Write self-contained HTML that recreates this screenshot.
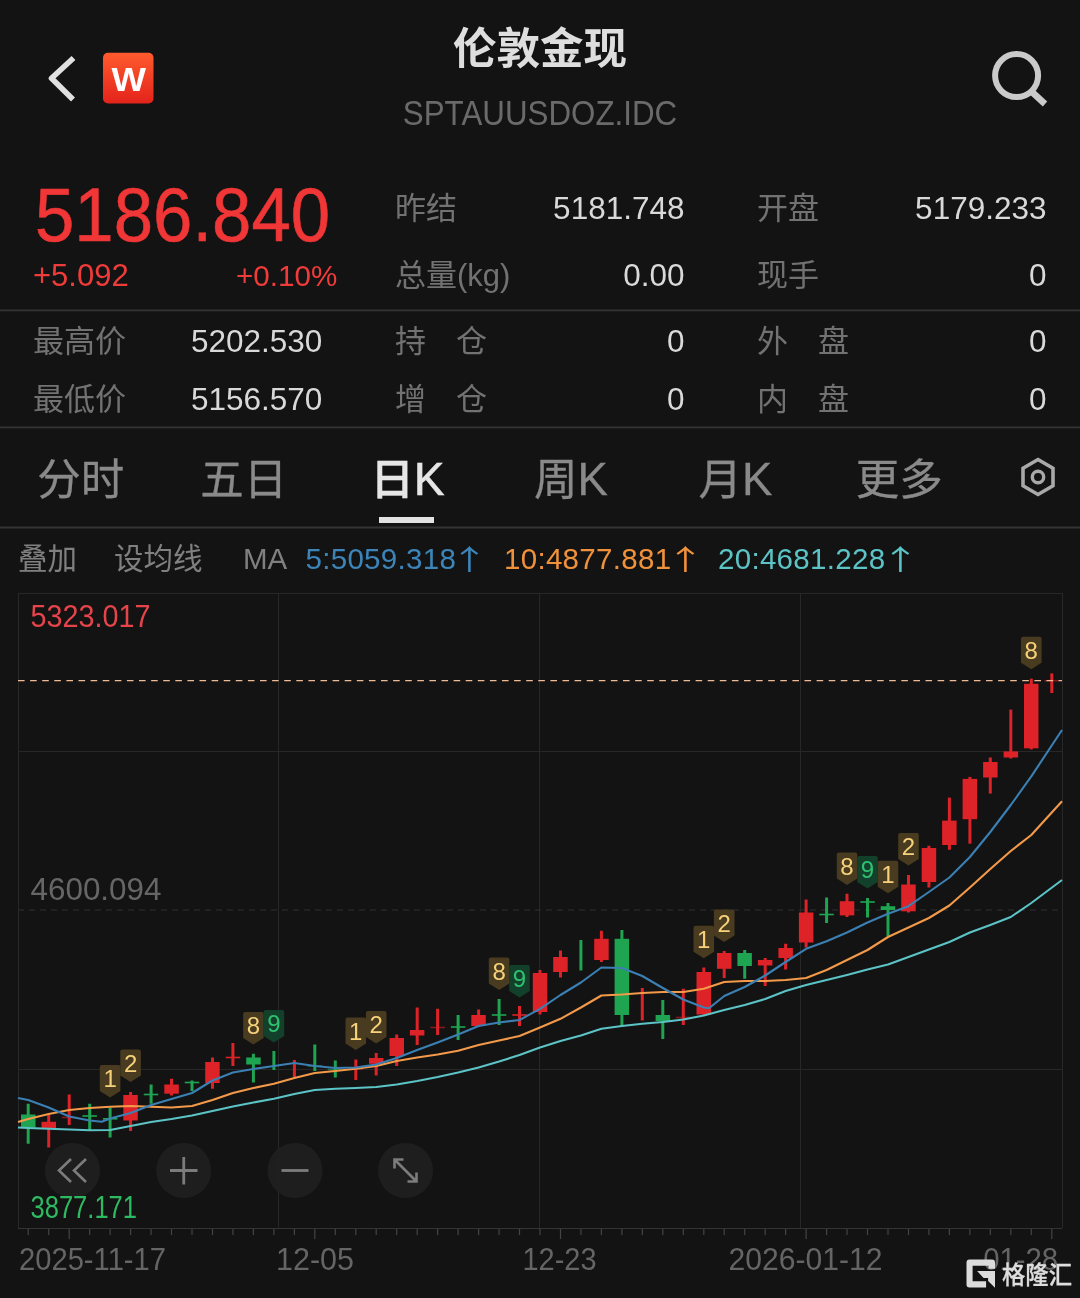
<!DOCTYPE html>
<html lang="zh"><head><meta charset="utf-8"><title>伦敦金现</title>
<style>
html,body{margin:0;padding:0;background:#131313;}
body{width:1080px;height:1298px;position:relative;overflow:hidden;font-family:"Liberation Sans","Noto Sans CJK SC",sans-serif;color:#d6d6d6;}
.a{position:absolute;white-space:nowrap;line-height:1;}
.lb{color:#727272;font-size:31px;margin-left:-1px;}
.v{color:#d9d9d9;font-size:31.5px;text-align:right;margin-right:-0.5px;}
.sep{position:absolute;left:0;width:1080px;height:2px;background:#2f2f2f;}
.tab{font-size:43.5px;color:#8a8a8a;-webkit-text-stroke:0.3px currentColor;font-family:"Liberation Sans","Noto Sans CJK SC",sans-serif;}
.k{font-family:"Liberation Sans",sans-serif;font-size:45.5px;line-height:0;}
.ma{font-size:29.5px;}
.ar{font-family:"Noto Sans CJK SC",sans-serif;font-size:28px;top:544.2px;width:29px;text-align:center;transform:scaleX(1.35);}
svg text{font-family:"Liberation Sans","Noto Sans CJK SC",sans-serif;}
</style></head><body>
<!-- header -->
<svg class="a" style="left:0;top:0" width="1080" height="140" viewBox="0 0 1080 140">
<defs><linearGradient id="wg" x1="0" y1="0" x2="0" y2="1"><stop offset="0" stop-color="#ff5b2e"/><stop offset="1" stop-color="#e3231b"/></linearGradient></defs>
<path d="M73.5,58 L51.5,78.3 L73,99.6" fill="none" stroke="#e0e0e0" stroke-width="5.6" stroke-linejoin="round"/>
<rect x="103" y="52.8" width="50.5" height="50.7" rx="5" fill="url(#wg)"/>
<text x="111.6" y="90.5" font-size="33.5" font-weight="bold" fill="#fff" textLength="34.5" lengthAdjust="spacingAndGlyphs">W</text>
<circle cx="1016.6" cy="75.6" r="21.5" fill="none" stroke="#cacaca" stroke-width="6"/>
<path d="M1031.5,91.5 L1045,104" stroke="#cacaca" stroke-width="6.5" fill="none"/>
</svg>
<div class="a" style="left:0;width:1080px;top:28px;text-align:center;font-size:43.5px;font-weight:bold;color:#dedede;">伦敦金现</div>
<div class="a" style="left:0;width:1080px;top:95px;text-align:center;font-size:35px;transform:scaleX(0.895);color:#6a6a6a;">SPTAUUSDOZ.IDC</div>
<!-- price -->
<div class="a" style="left:34.5px;top:177.6px;font-size:75.6px;transform:scaleX(0.936);transform-origin:0 0;-webkit-text-stroke:0.6px #f03636;color:#f03636;">5186.840</div>
<div class="a" style="left:33px;top:260px;font-size:31px;color:#f03b3b;">+5.092</div>
<div class="a" style="left:236px;top:260.5px;font-size:29.6px;color:#f03b3b;">+0.10%</div>
<!-- stats -->
<div class="a lb" style="left:396px;top:192.5px;">昨结</div><div class="a v" style="right:396px;top:192.5px;">5181.748</div>
<div class="a lb" style="left:758px;top:192.5px;">开盘</div><div class="a v" style="right:34px;top:192.5px;">5179.233</div>
<div class="a lb" style="left:396px;top:260px;">总量(kg)</div><div class="a v" style="right:396px;top:260px;">0.00</div>
<div class="a lb" style="left:758px;top:260px;">现手</div><div class="a v" style="right:34px;top:260px;">0</div>
<div class="a lb" style="left:34px;top:326px;">最高价</div><div class="a v" style="left:191px;top:326px;">5202.530</div>
<div class="a lb" style="left:396px;top:326px;">持<span style="margin-left:30px">仓</span></div><div class="a v" style="right:396px;top:326px;">0</div>
<div class="a lb" style="left:758px;top:326px;">外<span style="margin-left:30px">盘</span></div><div class="a v" style="right:34px;top:326px;">0</div>
<div class="a lb" style="left:34px;top:384px;">最低价</div><div class="a v" style="left:191px;top:384px;">5156.570</div>
<div class="a lb" style="left:396px;top:384px;">增<span style="margin-left:30px">仓</span></div><div class="a v" style="right:396px;top:384px;">0</div>
<div class="a lb" style="left:758px;top:384px;">内<span style="margin-left:30px">盘</span></div><div class="a v" style="right:34px;top:384px;">0</div>
<!-- tabs -->
<div class="a tab" style="left:37.2px;top:459px;">分时</div>
<div class="a tab" style="left:200.2px;top:459px;">五日</div>
<div class="a tab" style="left:370.5px;top:459px;color:#e6e6e6;font-weight:500;-webkit-text-stroke:0.5px #e6e6e6;">日<span class="k" style="-webkit-text-stroke:0.7px #e6e6e6;">K</span></div>
<div class="a" style="left:379px;top:517.3px;width:55px;height:5.4px;background:#e2e2e2;"></div>
<div class="a tab" style="left:534px;top:459px;">周<span class="k">K</span></div>
<div class="a tab" style="left:698.5px;top:459px;">月<span class="k">K</span></div>
<div class="a tab" style="left:855.7px;top:459px;">更多</div>
<svg class="a" style="left:1010px;top:450px" width="56" height="56" viewBox="1010 450 56 56">
<path d="M1038,459.5 L1053,468.3 V485.7 L1038,494.5 L1023,485.7 V468.3 Z" fill="none" stroke="#a9a9a9" stroke-width="3.6" stroke-linejoin="miter"/>
<circle cx="1038" cy="477" r="5.7" fill="none" stroke="#a9a9a9" stroke-width="3.4"/>
</svg>
<!-- MA row -->
<div class="a ma" style="left:18px;top:544px;color:#808080;">叠加</div>
<div class="a ma" style="left:114px;top:544px;color:#808080;">设均线</div>
<div class="a ma" style="left:243px;top:544px;color:#808080;">MA</div>
<div class="a ma" style="left:305.5px;top:544px;color:#3d84b8;letter-spacing:0.3px;">5:5059.318</div><div class="a ar" style="left:454.5px;color:#3d84b8;">↑</div>
<div class="a ma" style="left:504px;top:544px;color:#f0913c;letter-spacing:0.3px;">10:4877.881</div><div class="a ar" style="left:671px;color:#f0913c;">↑</div>
<div class="a ma" style="left:718px;top:544px;color:#5cc3c6;letter-spacing:0.3px;">20:4681.228</div><div class="a ar" style="left:885.5px;color:#5cc3c6;">↑</div>
<!-- chart -->
<svg class="a" style="left:0;top:0" width="1080" height="1298" viewBox="0 0 1080 1298">
<line x1="0" y1="310.4" x2="1080" y2="310.4" stroke="#343434" stroke-width="1.8"/>
<line x1="0" y1="427.35" x2="1080" y2="427.35" stroke="#343434" stroke-width="1.8"/>
<line x1="0" y1="527.5" x2="1080" y2="527.5" stroke="#343434" stroke-width="1.8"/>
<line x1="18.5" y1="593" x2="18.5" y2="1228" stroke="#272727" stroke-width="1"/>
<line x1="278.5" y1="593" x2="278.5" y2="1228" stroke="#272727" stroke-width="1"/>
<line x1="539.5" y1="593" x2="539.5" y2="1228" stroke="#272727" stroke-width="1"/>
<line x1="800.5" y1="593" x2="800.5" y2="1228" stroke="#272727" stroke-width="1"/>
<line x1="1062.5" y1="593" x2="1062.5" y2="1228" stroke="#272727" stroke-width="1"/>
<line x1="18" y1="593.5" x2="1062" y2="593.5" stroke="#272727" stroke-width="1"/>
<line x1="18" y1="751.5" x2="1062" y2="751.5" stroke="#272727" stroke-width="1"/>
<line x1="18" y1="1069.5" x2="1062" y2="1069.5" stroke="#272727" stroke-width="1"/>
<line x1="18" y1="910" x2="1062" y2="910" stroke="#303030" stroke-width="1" stroke-dasharray="6 5"/>
<line x1="18" y1="1228.5" x2="1062" y2="1228.5" stroke="#343434" stroke-width="1"/>
<line x1="28.2" y1="1229" x2="28.2" y2="1235" stroke="#444444" stroke-width="1.2"/>
<line x1="48.7" y1="1229" x2="48.7" y2="1235" stroke="#444444" stroke-width="1.2"/>
<line x1="69.2" y1="1229" x2="69.2" y2="1239" stroke="#444444" stroke-width="1.2"/>
<line x1="89.7" y1="1229" x2="89.7" y2="1235" stroke="#444444" stroke-width="1.2"/>
<line x1="110.1" y1="1229" x2="110.1" y2="1235" stroke="#444444" stroke-width="1.2"/>
<line x1="130.6" y1="1229" x2="130.6" y2="1235" stroke="#444444" stroke-width="1.2"/>
<line x1="151.1" y1="1229" x2="151.1" y2="1235" stroke="#444444" stroke-width="1.2"/>
<line x1="171.5" y1="1229" x2="171.5" y2="1235" stroke="#444444" stroke-width="1.2"/>
<line x1="192.0" y1="1229" x2="192.0" y2="1235" stroke="#444444" stroke-width="1.2"/>
<line x1="212.5" y1="1229" x2="212.5" y2="1235" stroke="#444444" stroke-width="1.2"/>
<line x1="232.9" y1="1229" x2="232.9" y2="1235" stroke="#444444" stroke-width="1.2"/>
<line x1="253.4" y1="1229" x2="253.4" y2="1235" stroke="#444444" stroke-width="1.2"/>
<line x1="273.9" y1="1229" x2="273.9" y2="1235" stroke="#444444" stroke-width="1.2"/>
<line x1="294.4" y1="1229" x2="294.4" y2="1235" stroke="#444444" stroke-width="1.2"/>
<line x1="314.8" y1="1229" x2="314.8" y2="1239" stroke="#444444" stroke-width="1.2"/>
<line x1="335.3" y1="1229" x2="335.3" y2="1235" stroke="#444444" stroke-width="1.2"/>
<line x1="355.8" y1="1229" x2="355.8" y2="1235" stroke="#444444" stroke-width="1.2"/>
<line x1="376.2" y1="1229" x2="376.2" y2="1235" stroke="#444444" stroke-width="1.2"/>
<line x1="396.7" y1="1229" x2="396.7" y2="1235" stroke="#444444" stroke-width="1.2"/>
<line x1="417.2" y1="1229" x2="417.2" y2="1235" stroke="#444444" stroke-width="1.2"/>
<line x1="437.6" y1="1229" x2="437.6" y2="1235" stroke="#444444" stroke-width="1.2"/>
<line x1="458.1" y1="1229" x2="458.1" y2="1235" stroke="#444444" stroke-width="1.2"/>
<line x1="478.6" y1="1229" x2="478.6" y2="1235" stroke="#444444" stroke-width="1.2"/>
<line x1="499.1" y1="1229" x2="499.1" y2="1235" stroke="#444444" stroke-width="1.2"/>
<line x1="519.5" y1="1229" x2="519.5" y2="1235" stroke="#444444" stroke-width="1.2"/>
<line x1="540.0" y1="1229" x2="540.0" y2="1235" stroke="#444444" stroke-width="1.2"/>
<line x1="560.5" y1="1229" x2="560.5" y2="1239" stroke="#444444" stroke-width="1.2"/>
<line x1="580.9" y1="1229" x2="580.9" y2="1235" stroke="#444444" stroke-width="1.2"/>
<line x1="601.4" y1="1229" x2="601.4" y2="1235" stroke="#444444" stroke-width="1.2"/>
<line x1="621.9" y1="1229" x2="621.9" y2="1235" stroke="#444444" stroke-width="1.2"/>
<line x1="642.3" y1="1229" x2="642.3" y2="1235" stroke="#444444" stroke-width="1.2"/>
<line x1="662.8" y1="1229" x2="662.8" y2="1235" stroke="#444444" stroke-width="1.2"/>
<line x1="683.3" y1="1229" x2="683.3" y2="1235" stroke="#444444" stroke-width="1.2"/>
<line x1="703.8" y1="1229" x2="703.8" y2="1235" stroke="#444444" stroke-width="1.2"/>
<line x1="724.2" y1="1229" x2="724.2" y2="1235" stroke="#444444" stroke-width="1.2"/>
<line x1="744.7" y1="1229" x2="744.7" y2="1235" stroke="#444444" stroke-width="1.2"/>
<line x1="765.2" y1="1229" x2="765.2" y2="1235" stroke="#444444" stroke-width="1.2"/>
<line x1="785.6" y1="1229" x2="785.6" y2="1235" stroke="#444444" stroke-width="1.2"/>
<line x1="806.1" y1="1229" x2="806.1" y2="1239" stroke="#444444" stroke-width="1.2"/>
<line x1="826.6" y1="1229" x2="826.6" y2="1235" stroke="#444444" stroke-width="1.2"/>
<line x1="847.0" y1="1229" x2="847.0" y2="1235" stroke="#444444" stroke-width="1.2"/>
<line x1="867.5" y1="1229" x2="867.5" y2="1235" stroke="#444444" stroke-width="1.2"/>
<line x1="888.0" y1="1229" x2="888.0" y2="1235" stroke="#444444" stroke-width="1.2"/>
<line x1="908.5" y1="1229" x2="908.5" y2="1235" stroke="#444444" stroke-width="1.2"/>
<line x1="928.9" y1="1229" x2="928.9" y2="1235" stroke="#444444" stroke-width="1.2"/>
<line x1="949.4" y1="1229" x2="949.4" y2="1235" stroke="#444444" stroke-width="1.2"/>
<line x1="969.9" y1="1229" x2="969.9" y2="1235" stroke="#444444" stroke-width="1.2"/>
<line x1="990.3" y1="1229" x2="990.3" y2="1235" stroke="#444444" stroke-width="1.2"/>
<line x1="1010.8" y1="1229" x2="1010.8" y2="1235" stroke="#444444" stroke-width="1.2"/>
<line x1="1031.3" y1="1229" x2="1031.3" y2="1235" stroke="#444444" stroke-width="1.2"/>
<line x1="1051.8" y1="1229" x2="1051.8" y2="1239" stroke="#444444" stroke-width="1.2"/>
<line x1="28.2" y1="1103.75" x2="28.2" y2="1143.75" stroke="#1fa552" stroke-width="3"/>
<rect x="21.0" y="1114.5" width="14.5" height="13.0" fill="#1fa552"/>
<line x1="48.7" y1="1115" x2="48.7" y2="1147.5" stroke="#dd2228" stroke-width="3"/>
<rect x="41.5" y="1121.8" width="14.5" height="6.2" fill="#dd2228"/>
<line x1="69.2" y1="1094.5" x2="69.2" y2="1125" stroke="#dd2228" stroke-width="3"/>
<rect x="61.9" y="1116.7" width="14.5" height="1.6" fill="#dd2228" fill-opacity="0.55"/>
<line x1="89.7" y1="1103.75" x2="89.7" y2="1130.5" stroke="#1fa552" stroke-width="3"/>
<rect x="82.4" y="1115.2" width="14.5" height="1.6" fill="#1fa552" fill-opacity="1"/>
<line x1="110.1" y1="1107.5" x2="110.1" y2="1137.5" stroke="#1fa552" stroke-width="3"/>
<rect x="102.9" y="1118.0" width="14.5" height="1.6" fill="#1fa552" fill-opacity="1"/>
<line x1="130.6" y1="1092" x2="130.6" y2="1131" stroke="#dd2228" stroke-width="3"/>
<rect x="123.3" y="1095.0" width="14.5" height="25.5" fill="#dd2228"/>
<line x1="151.1" y1="1084.5" x2="151.1" y2="1103.75" stroke="#1fa552" stroke-width="3"/>
<rect x="143.8" y="1093.7" width="14.5" height="1.6" fill="#1fa552" fill-opacity="1"/>
<line x1="171.5" y1="1078.75" x2="171.5" y2="1095.5" stroke="#dd2228" stroke-width="3"/>
<rect x="164.3" y="1084.5" width="14.5" height="9.2" fill="#dd2228"/>
<line x1="192.0" y1="1080.5" x2="192.0" y2="1091" stroke="#1fa552" stroke-width="3"/>
<rect x="184.8" y="1081.7" width="14.5" height="1.6" fill="#1fa552" fill-opacity="1"/>
<line x1="212.5" y1="1057.5" x2="212.5" y2="1088.75" stroke="#dd2228" stroke-width="3"/>
<rect x="205.2" y="1062.0" width="14.5" height="21.0" fill="#dd2228"/>
<line x1="232.9" y1="1043" x2="232.9" y2="1066" stroke="#dd2228" stroke-width="3"/>
<rect x="225.7" y="1056.7" width="14.5" height="1.6" fill="#dd2228" fill-opacity="1"/>
<line x1="253.4" y1="1053.75" x2="253.4" y2="1082.5" stroke="#1fa552" stroke-width="3"/>
<rect x="246.2" y="1057.5" width="14.5" height="7.0" fill="#1fa552"/>
<line x1="273.9" y1="1051" x2="273.9" y2="1070" stroke="#1fa552" stroke-width="3"/>
<line x1="294.4" y1="1060" x2="294.4" y2="1077.5" stroke="#dd2228" stroke-width="3"/>
<line x1="314.8" y1="1044.5" x2="314.8" y2="1071" stroke="#1fa552" stroke-width="3"/>
<rect x="307.6" y="1065.2" width="14.5" height="1.6" fill="#1fa552" fill-opacity="0.55"/>
<line x1="335.3" y1="1060.5" x2="335.3" y2="1077.5" stroke="#1fa552" stroke-width="3"/>
<rect x="328.0" y="1068.7" width="14.5" height="1.6" fill="#1fa552" fill-opacity="0.55"/>
<line x1="355.8" y1="1059.5" x2="355.8" y2="1080" stroke="#dd2228" stroke-width="3"/>
<rect x="348.5" y="1068.0" width="14.5" height="1.6" fill="#dd2228" fill-opacity="0.55"/>
<line x1="376.2" y1="1053" x2="376.2" y2="1075.5" stroke="#dd2228" stroke-width="3"/>
<rect x="369.0" y="1058.0" width="14.5" height="5.8" fill="#dd2228"/>
<line x1="396.7" y1="1034.5" x2="396.7" y2="1066" stroke="#dd2228" stroke-width="3"/>
<rect x="389.5" y="1038.0" width="14.5" height="18.0" fill="#dd2228"/>
<line x1="417.2" y1="1007.5" x2="417.2" y2="1045" stroke="#dd2228" stroke-width="3"/>
<rect x="409.9" y="1030.0" width="14.5" height="5.5" fill="#dd2228"/>
<line x1="437.6" y1="1008.75" x2="437.6" y2="1035" stroke="#dd2228" stroke-width="3"/>
<rect x="430.4" y="1026.7" width="14.5" height="1.6" fill="#dd2228" fill-opacity="0.55"/>
<line x1="458.1" y1="1015" x2="458.1" y2="1040" stroke="#1fa552" stroke-width="3"/>
<rect x="450.9" y="1026.2" width="14.5" height="1.6" fill="#1fa552" fill-opacity="1"/>
<line x1="478.6" y1="1009.5" x2="478.6" y2="1027" stroke="#dd2228" stroke-width="3"/>
<rect x="471.3" y="1015.0" width="14.5" height="11.0" fill="#dd2228"/>
<line x1="499.1" y1="999" x2="499.1" y2="1025" stroke="#1fa552" stroke-width="3"/>
<rect x="491.8" y="1014.2" width="14.5" height="1.6" fill="#1fa552" fill-opacity="1"/>
<line x1="519.5" y1="1006" x2="519.5" y2="1026" stroke="#dd2228" stroke-width="3"/>
<rect x="512.3" y="1014.2" width="14.5" height="1.6" fill="#dd2228" fill-opacity="1"/>
<line x1="540.0" y1="970" x2="540.0" y2="1014.5" stroke="#dd2228" stroke-width="3"/>
<rect x="532.8" y="973.0" width="14.5" height="39.0" fill="#dd2228"/>
<line x1="560.5" y1="950.5" x2="560.5" y2="977.5" stroke="#dd2228" stroke-width="3"/>
<rect x="553.2" y="957.0" width="14.5" height="15.0" fill="#dd2228"/>
<line x1="580.9" y1="940" x2="580.9" y2="970.5" stroke="#1fa552" stroke-width="3"/>
<line x1="601.4" y1="930.75" x2="601.4" y2="962" stroke="#dd2228" stroke-width="3"/>
<rect x="594.2" y="938.8" width="14.5" height="21.2" fill="#dd2228"/>
<line x1="621.9" y1="930" x2="621.9" y2="1026" stroke="#1fa552" stroke-width="3"/>
<rect x="614.6" y="938.8" width="14.5" height="76.2" fill="#1fa552"/>
<line x1="642.3" y1="988" x2="642.3" y2="1020.5" stroke="#dd2228" stroke-width="3"/>
<line x1="662.8" y1="1000" x2="662.8" y2="1039" stroke="#1fa552" stroke-width="3"/>
<rect x="655.6" y="1015.0" width="14.5" height="6.0" fill="#1fa552"/>
<line x1="683.3" y1="988.75" x2="683.3" y2="1025" stroke="#dd2228" stroke-width="3"/>
<rect x="676.0" y="1016.7" width="14.5" height="1.6" fill="#dd2228" fill-opacity="0.55"/>
<line x1="703.8" y1="967.5" x2="703.8" y2="1015" stroke="#dd2228" stroke-width="3"/>
<rect x="696.5" y="972.0" width="14.5" height="42.5" fill="#dd2228"/>
<line x1="724.2" y1="951" x2="724.2" y2="978" stroke="#dd2228" stroke-width="3"/>
<rect x="717.0" y="953.0" width="14.5" height="15.8" fill="#dd2228"/>
<line x1="744.7" y1="950" x2="744.7" y2="978.75" stroke="#1fa552" stroke-width="3"/>
<rect x="737.4" y="953.0" width="14.5" height="13.0" fill="#1fa552"/>
<line x1="765.2" y1="958" x2="765.2" y2="986" stroke="#dd2228" stroke-width="3"/>
<rect x="757.9" y="960.0" width="14.5" height="5.5" fill="#dd2228"/>
<line x1="785.6" y1="943.75" x2="785.6" y2="969.5" stroke="#dd2228" stroke-width="3"/>
<rect x="778.4" y="948.0" width="14.5" height="10.0" fill="#dd2228"/>
<line x1="806.1" y1="899.5" x2="806.1" y2="947.5" stroke="#dd2228" stroke-width="3"/>
<rect x="798.9" y="912.5" width="14.5" height="30.0" fill="#dd2228"/>
<line x1="826.6" y1="897.5" x2="826.6" y2="923" stroke="#1fa552" stroke-width="3"/>
<rect x="819.3" y="913.7" width="14.5" height="1.6" fill="#1fa552" fill-opacity="1"/>
<line x1="847.0" y1="893.75" x2="847.0" y2="917" stroke="#dd2228" stroke-width="3"/>
<rect x="839.8" y="901.2" width="14.5" height="14.2" fill="#dd2228"/>
<line x1="867.5" y1="898" x2="867.5" y2="917.5" stroke="#1fa552" stroke-width="3"/>
<rect x="860.3" y="901.2" width="14.5" height="1.6" fill="#1fa552" fill-opacity="1"/>
<line x1="888.0" y1="903" x2="888.0" y2="936.25" stroke="#1fa552" stroke-width="3"/>
<rect x="880.7" y="906.2" width="14.5" height="3.8" fill="#1fa552"/>
<line x1="908.5" y1="875" x2="908.5" y2="912.5" stroke="#dd2228" stroke-width="3"/>
<rect x="901.2" y="884.5" width="14.5" height="26.8" fill="#dd2228"/>
<line x1="928.9" y1="845.75" x2="928.9" y2="887.5" stroke="#dd2228" stroke-width="3"/>
<rect x="921.7" y="848.0" width="14.5" height="34.0" fill="#dd2228"/>
<line x1="949.4" y1="797.6" x2="949.4" y2="849.8" stroke="#dd2228" stroke-width="3"/>
<rect x="942.1" y="820.6" width="14.5" height="24.4" fill="#dd2228"/>
<line x1="969.9" y1="776.9" x2="969.9" y2="843.7" stroke="#dd2228" stroke-width="3"/>
<rect x="962.6" y="778.9" width="14.5" height="40.3" fill="#dd2228"/>
<line x1="990.3" y1="757.5" x2="990.3" y2="793.6" stroke="#dd2228" stroke-width="3"/>
<rect x="983.1" y="762.0" width="14.5" height="15.5" fill="#dd2228"/>
<line x1="1010.8" y1="709.6" x2="1010.8" y2="758.5" stroke="#dd2228" stroke-width="3"/>
<rect x="1003.6" y="751.4" width="14.5" height="6.1" fill="#dd2228"/>
<line x1="1031.3" y1="678.7" x2="1031.3" y2="749.4" stroke="#dd2228" stroke-width="3"/>
<rect x="1024.0" y="683.8" width="14.5" height="64.5" fill="#dd2228"/>
<line x1="1051.8" y1="673.4" x2="1051.8" y2="693" stroke="#dd2228" stroke-width="3"/>
<rect x="1044.5" y="679.9" width="14.5" height="1.6" fill="#dd2228" fill-opacity="0.55"/>
<polyline points="18.0,1127.5 28.2,1128.0 48.7,1128.8 69.2,1129.5 89.7,1130.2 110.1,1130.0 130.6,1126.0 151.1,1122.0 171.5,1119.0 192.0,1115.5 212.5,1111.0 232.9,1106.5 253.4,1102.5 273.9,1098.8 294.4,1094.0 314.8,1090.0 335.3,1088.8 355.8,1088.0 376.2,1087.0 396.7,1084.5 417.2,1081.0 437.6,1077.0 458.1,1072.5 478.6,1067.5 499.1,1061.5 519.5,1055.0 540.0,1047.5 560.5,1041.0 580.9,1035.5 601.4,1028.8 621.9,1026.0 642.3,1023.8 662.8,1022.0 683.3,1019.5 703.8,1015.5 724.2,1010.0 744.7,1005.0 765.2,999.0 785.6,991.0 806.1,985.0 826.6,980.0 847.0,975.0 867.5,969.5 888.0,964.5 908.5,957.0 928.9,949.5 949.4,942.0 969.9,932.5 990.3,925.0 1010.8,917.0 1031.3,903.0 1062.0,880.0" fill="none" stroke="#5cc3c6" stroke-width="2.1" stroke-linejoin="round"/>
<polyline points="18.0,1122.0 28.2,1119.0 48.7,1114.0 69.2,1110.0 89.7,1108.0 110.1,1106.8 130.6,1106.0 151.1,1106.8 171.5,1107.5 192.0,1106.0 212.5,1100.0 232.9,1093.0 253.4,1088.0 273.9,1083.8 294.4,1078.0 314.8,1073.0 335.3,1071.0 355.8,1068.8 376.2,1066.0 396.7,1061.0 417.2,1057.5 437.6,1054.5 458.1,1050.8 478.6,1045.0 499.1,1040.5 519.5,1036.0 540.0,1027.5 560.5,1018.8 580.9,1007.5 601.4,995.5 621.9,994.5 642.3,993.0 662.8,992.0 683.3,992.0 703.8,988.8 724.2,982.0 744.7,981.0 765.2,981.0 785.6,980.0 806.1,978.0 826.6,970.0 847.0,960.0 867.5,950.0 888.0,937.0 908.5,927.5 928.9,918.0 949.4,905.5 969.9,887.5 990.3,869.0 1010.8,851.0 1031.3,835.0 1062.0,801.3" fill="none" stroke="#f39a4a" stroke-width="2.1" stroke-linejoin="round"/>
<polyline points="18.0,1098.0 28.2,1100.0 48.7,1107.5 69.2,1116.5 89.7,1120.5 101.7,1121.7 110.1,1118.5 130.6,1113.0 151.1,1105.0 171.5,1099.0 192.0,1093.0 212.5,1080.5 232.9,1072.5 253.4,1069.0 273.9,1066.0 294.4,1063.0 314.8,1066.0 335.3,1068.0 355.8,1067.5 376.2,1064.5 396.7,1058.0 417.2,1050.0 437.6,1042.5 458.1,1034.5 478.6,1026.0 499.1,1022.5 519.5,1020.0 540.0,1008.8 560.5,995.0 580.9,982.5 601.4,967.5 621.9,968.0 642.3,976.0 662.8,988.0 683.3,999.5 703.8,1007.5 709.0,1008.3 724.2,996.0 744.7,987.0 765.2,975.5 785.6,962.0 806.1,948.8 826.6,941.2 847.0,932.5 867.5,922.5 888.0,913.8 908.5,906.2 928.9,892.0 949.4,877.5 969.9,857.0 990.3,832.0 1010.8,805.0 1031.3,776.4 1062.0,730.0" fill="none" stroke="#3b7fb3" stroke-width="2.1" stroke-linejoin="round"/>
<line x1="18" y1="680.7" x2="1062" y2="680.7" stroke="#eebb96" stroke-width="1.3" stroke-dasharray="6.6 5.5"/>
<path d="M101.8,1065 H118.4 Q120.4,1065 120.4,1067 V1091.0 L110.1,1097.5 L99.8,1091.0 V1067 Q99.8,1065 101.8,1065 Z" fill="#483b20"/>
<text x="110.1" y="1087.0" font-size="24" fill="#f7d27a" text-anchor="middle">1</text>
<path d="M122.3,1049.5 H138.9 Q140.9,1049.5 140.9,1051.5 V1075.5 L130.6,1082.0 L120.3,1075.5 V1051.5 Q120.3,1049.5 122.3,1049.5 Z" fill="#483b20"/>
<text x="130.6" y="1071.5" font-size="24" fill="#f7d27a" text-anchor="middle">2</text>
<path d="M245.1,1012 H261.7 Q263.7,1012 263.7,1014 V1038.0 L253.4,1044.5 L243.1,1038.0 V1014 Q243.1,1012 245.1,1012 Z" fill="#483b20"/>
<text x="253.4" y="1034.0" font-size="24" fill="#f7d27a" text-anchor="middle">8</text>
<path d="M265.6,1010 H282.2 Q284.2,1010 284.2,1012 V1036.0 L273.9,1042.5 L263.6,1036.0 V1012 Q263.6,1010 265.6,1010 Z" fill="#12402a"/>
<text x="273.9" y="1032.0" font-size="24" fill="#2fc070" text-anchor="middle">9</text>
<path d="M347.5,1017.5 H364.1 Q366.1,1017.5 366.1,1019.5 V1043.5 L355.8,1050.0 L345.5,1043.5 V1019.5 Q345.5,1017.5 347.5,1017.5 Z" fill="#483b20"/>
<text x="355.8" y="1039.5" font-size="24" fill="#f7d27a" text-anchor="middle">1</text>
<path d="M367.9,1011 H384.5 Q386.5,1011 386.5,1013 V1037.0 L376.2,1043.5 L365.9,1037.0 V1013 Q365.9,1011 367.9,1011 Z" fill="#483b20"/>
<text x="376.2" y="1033.0" font-size="24" fill="#f7d27a" text-anchor="middle">2</text>
<path d="M490.8,957.5 H507.4 Q509.4,957.5 509.4,959.5 V983.5 L499.1,990.0 L488.8,983.5 V959.5 Q488.8,957.5 490.8,957.5 Z" fill="#483b20"/>
<text x="499.1" y="979.5" font-size="24" fill="#f7d27a" text-anchor="middle">8</text>
<path d="M511.2,965 H527.8 Q529.8,965 529.8,967 V991.0 L519.5,997.5 L509.2,991.0 V967 Q509.2,965 511.2,965 Z" fill="#12402a"/>
<text x="519.5" y="987.0" font-size="24" fill="#2fc070" text-anchor="middle">9</text>
<path d="M695.5,925.75 H712.1 Q714.1,925.75 714.1,927.75 V951.8 L703.8,958.2 L693.5,951.8 V927.75 Q693.5,925.75 695.5,925.75 Z" fill="#483b20"/>
<text x="703.8" y="947.8" font-size="24" fill="#f7d27a" text-anchor="middle">1</text>
<path d="M715.9,909.5 H732.5 Q734.5,909.5 734.5,911.5 V935.5 L724.2,942.0 L713.9,935.5 V911.5 Q713.9,909.5 715.9,909.5 Z" fill="#483b20"/>
<text x="724.2" y="931.5" font-size="24" fill="#f7d27a" text-anchor="middle">2</text>
<path d="M838.8,852.5 H855.3 Q857.3,852.5 857.3,854.5 V878.5 L847.0,885.0 L836.8,878.5 V854.5 Q836.8,852.5 838.8,852.5 Z" fill="#483b20"/>
<text x="847.0" y="874.5" font-size="24" fill="#f7d27a" text-anchor="middle">8</text>
<path d="M859.2,856 H875.8 Q877.8,856 877.8,858 V882.0 L867.5,888.5 L857.2,882.0 V858 Q857.2,856 859.2,856 Z" fill="#12402a"/>
<text x="867.5" y="878.0" font-size="24" fill="#2fc070" text-anchor="middle">9</text>
<path d="M879.7,860.75 H896.3 Q898.3,860.75 898.3,862.75 V886.8 L888.0,893.2 L877.7,886.8 V862.75 Q877.7,860.75 879.7,860.75 Z" fill="#483b20"/>
<text x="888.0" y="882.8" font-size="24" fill="#f7d27a" text-anchor="middle">1</text>
<path d="M900.2,833 H916.8 Q918.8,833 918.8,835 V859.0 L908.5,865.5 L898.2,859.0 V835 Q898.2,833 900.2,833 Z" fill="#483b20"/>
<text x="908.5" y="855.0" font-size="24" fill="#f7d27a" text-anchor="middle">2</text>
<path d="M1023.0,636.7 H1039.6 Q1041.6,636.7 1041.6,638.7 V662.7 L1031.3,669.2 L1021.0,662.7 V638.7 Q1021.0,636.7 1023.0,636.7 Z" fill="#483b20"/>
<text x="1031.3" y="658.7" font-size="24" fill="#f7d27a" text-anchor="middle">8</text>
<circle cx="72.5" cy="1170.5" r="27.5" fill="#202020" fill-opacity="0.9"/>
<circle cx="183.75" cy="1170.5" r="27.5" fill="#202020" fill-opacity="0.9"/>
<circle cx="295" cy="1170.5" r="27.5" fill="#202020" fill-opacity="0.9"/>
<circle cx="405.5" cy="1170.5" r="27.5" fill="#202020" fill-opacity="0.9"/>
<path d="M71,1159 L59,1170.5 L71,1182 M86,1159 L74,1170.5 L86,1182" fill="none" stroke="#7c7c7c" stroke-width="2.6"/>
<path d="M170,1170.5 H197.5 M183.75,1157 V1184.5" fill="none" stroke="#7c7c7c" stroke-width="2.8"/>
<path d="M281.5,1170.5 H308.5" fill="none" stroke="#7c7c7c" stroke-width="2.8"/>
<path d="M395.5,1160.5 L415.5,1180.5 M394.5,1168.5 V1159.5 H403.5 M416.5,1172.5 V1181.5 H407.5" fill="none" stroke="#7c7c7c" stroke-width="2.6"/>
<text x="30.5" y="627" font-size="31" fill="#e5444a" textLength="120" lengthAdjust="spacingAndGlyphs">5323.017</text>
<text x="30.5" y="900" font-size="31" fill="#666666" textLength="131" lengthAdjust="spacingAndGlyphs">4600.094</text>
<text x="30.5" y="1217.5" font-size="31" fill="#2dbb62" textLength="106.5" lengthAdjust="spacingAndGlyphs">3877.171</text>
<text x="19" y="1270" font-size="31" fill="#656565" textLength="147" lengthAdjust="spacingAndGlyphs">2025-11-17</text>
<text x="276" y="1270" font-size="31" fill="#656565" textLength="78" lengthAdjust="spacingAndGlyphs">12-05</text>
<text x="522.5" y="1270" font-size="31" fill="#656565" textLength="74" lengthAdjust="spacingAndGlyphs">12-23</text>
<text x="728.5" y="1270" font-size="31" fill="#656565" textLength="154" lengthAdjust="spacingAndGlyphs">2026-01-12</text>
<text x="983.2" y="1270" font-size="31" fill="#656565" textLength="75" lengthAdjust="spacingAndGlyphs">01-28</text>
</svg>
<!-- watermark -->
<svg class="a" style="left:960px;top:1255px" width="120" height="40" viewBox="960 1255 120 40">
<path d="M969.5,1259.5 H992 Q995,1259.5 995,1262.5 V1268.7 H988.5 V1265.8 H972.6 V1281.3 H986.1 V1287.5 H969.5 Q966.5,1287.5 966.5,1284.5 V1262.5 Q966.5,1259.5 969.5,1259.5 Z" fill="#dcdcdc"/>
<path d="M977.1,1271.1 H995 V1287.8 L988.1,1280.9 V1278 H983.6 Z" fill="#dcdcdc"/>
<text x="1002" y="1284.3" font-size="24.5" font-weight="500" fill="#dedede" stroke="#dedede" stroke-width="0.3" textLength="70" lengthAdjust="spacingAndGlyphs">格隆汇</text>
</svg>
</body></html>
